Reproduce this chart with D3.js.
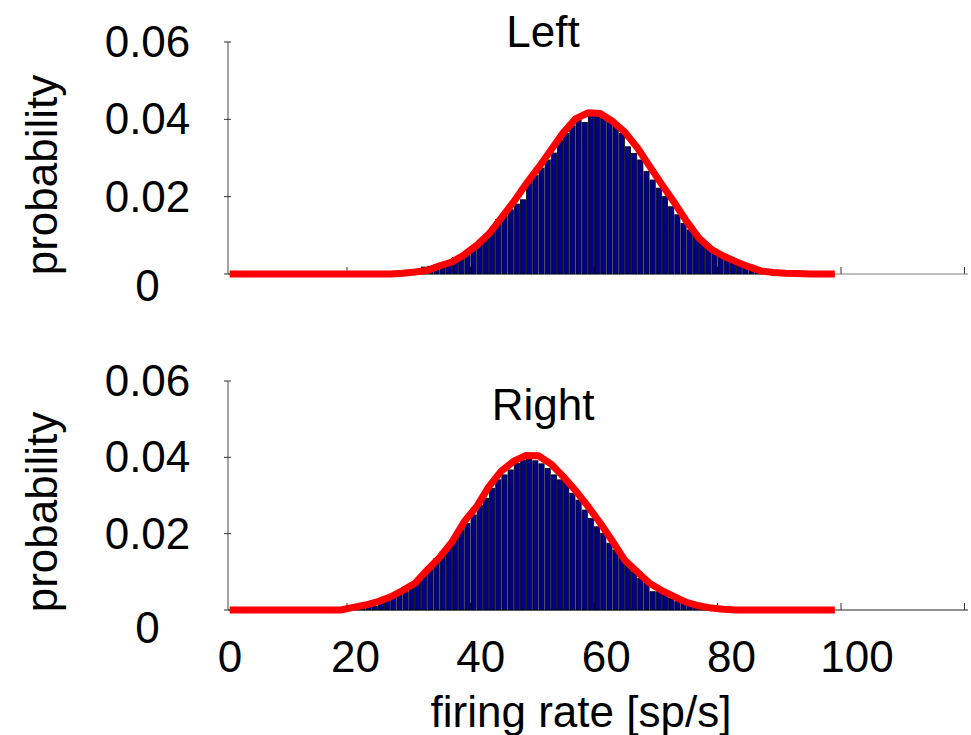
<!DOCTYPE html>
<html>
<head>
<meta charset="utf-8">
<script src="https://cdn.jsdelivr.net/npm/d3@7"></script>
<style>
  html, body { margin: 0; padding: 0; background: #fff; }
  svg text { font-family: "Liberation Sans", Arial, sans-serif; fill: #000; }
</style>
</head>
<body>
<svg id="chart" width="971" height="735"></svg>
<script>
// histogram bins are 1 sp/s wide, first bin given below
const leftFirstBin = 30;
const leftProb = [
  0.0003, 0.0005, 0.0018, 0.0020, 0.0024, 0.0028, 0.0034, 0.0043, 0.0048, 0.0058,
  0.0072, 0.0081, 0.0096, 0.0112, 0.0141, 0.0150, 0.0166, 0.0181, 0.0192, 0.0240,
  0.0255, 0.0274, 0.0295, 0.0313, 0.0345, 0.0364, 0.0383, 0.0397, 0.0392, 0.0411,
  0.0409, 0.0403, 0.0394, 0.0385, 0.0364, 0.0329, 0.0312, 0.0295, 0.0265, 0.0243,
  0.0222, 0.0200, 0.0174, 0.0153, 0.0131, 0.0114, 0.0097, 0.0090, 0.0071, 0.0058,
  0.0052, 0.0045, 0.0036, 0.0029, 0.0028, 0.0023, 0.0017, 0.0010, 0.0006, 0.0004,
  0.0003
];

const rightFirstBin = 21;
const rightProb = [
  0.0002, 0.0004, 0.0009, 0.0010, 0.0017, 0.0028, 0.0035, 0.0039, 0.0048, 0.0061,
  0.0074, 0.0096, 0.0115, 0.0135, 0.0153, 0.0170, 0.0187, 0.0210, 0.0227, 0.0249,
  0.0275, 0.0293, 0.0319, 0.0341, 0.0354, 0.0367, 0.0384, 0.0393, 0.0395, 0.0391,
  0.0383, 0.0371, 0.0354, 0.0341, 0.0339, 0.0306, 0.0288, 0.0262, 0.0240, 0.0218,
  0.0201, 0.0175, 0.0157, 0.0135, 0.0118, 0.0100, 0.0083, 0.0070, 0.0048, 0.0048,
  0.0039, 0.0031, 0.0022, 0.0017, 0.0012, 0.0007, 0.0004, 0.0002
];

// fitted curves, sampled at 1, 3, 5 ... 99 sp/s
const fitRates = [
   1,  3,  5,  7,  9, 11, 13, 15, 17, 19, 21, 23, 25, 27, 29, 31, 33, 35, 37, 39,
  41, 43, 45, 47, 49, 51, 53, 55, 57, 59, 61, 63, 65, 67, 69, 71, 73, 75, 77, 79,
  81, 83, 85, 87, 89, 91, 93, 95, 97, 99
];
const leftFit = [
  0, 0, 0, 0, 0, 0, 0, 0, 0, 0, 0, 0, 0, 0, 0.0002, 0.0005, 0.0009, 0.0021, 0.0031, 0.0050,
  0.0074, 0.0104, 0.0145, 0.0187, 0.0233, 0.0275, 0.0320, 0.0365, 0.0401, 0.0417,
  0.0415, 0.0395, 0.0367, 0.0327, 0.0279, 0.0231, 0.0185, 0.0136, 0.0093, 0.0064,
  0.0046, 0.0032, 0.0019, 0.0008, 0.0004, 0.0002, 0.0001, 0, 0, 0
];
const rightFit = [
  0, 0, 0, 0, 0, 0, 0, 0, 0, 0, 0.0007, 0.0013, 0.0022, 0.0034, 0.0051, 0.0070, 0.0105, 0.0138, 0.0178, 0.0232,
  0.0271, 0.0324, 0.0364, 0.0390, 0.0405, 0.0404, 0.0383, 0.0350, 0.0313, 0.0272,
  0.0228, 0.0180, 0.0130, 0.0100, 0.0070, 0.0051, 0.0035, 0.0020, 0.0011, 0.0005,
  0.0002, 0, 0, 0, 0, 0, 0, 0, 0, 0
];

const xTicks = [20, 40, 60, 80, 100, 120];
const xTickLabels = [0, 20, 40, 60, 80, 100];
const yTicks = [0, 0.02, 0.04, 0.06];

const svg = d3.select('#chart');
const fontSize = 44;

const x = d3.scaleLinear().domain([0, 120]).range([223.5, 964.5]);
// the printed numbers under the lower axis sit on their own spacing
const xLabel = d3.scaleLinear().domain([0, 100]).range([230, 857]);
const axisLeftX = 228;
const axisRightX = 968;

const panels = [
  { title: 'Left', titleY: 47, top: 42, bottom: 274, zeroShift: 12,
    first: leftFirstBin, prob: leftProb, fit: leftFit, xColor: '#808080', labelY: 175 },
  { title: 'Right', titleY: 420, top: 381, bottom: 610, zeroShift: 18,
    first: rightFirstBin, prob: rightProb, fit: rightFit, xColor: '#222', labelY: 512 }
];

panels.forEach(p => {
  const y = d3.scaleLinear().domain([0, 0.06]).range([p.bottom, p.top]);
  const g = svg.append('g');

  // axes
  g.append('line')
    .attr('x1', axisLeftX).attr('x2', axisRightX)
    .attr('y1', y(0)).attr('y2', y(0))
    .attr('stroke', p.xColor).attr('stroke-width', 1.2);
  g.append('line')
    .attr('x1', axisLeftX).attr('x2', axisLeftX)
    .attr('y1', y(0)).attr('y2', y(0.06))
    .attr('stroke', '#666').attr('stroke-width', 1.2);

  g.selectAll('.xtick')
    .data(xTicks)
    .enter().append('line')
    .attr('x1', d => x(d)).attr('x2', d => x(d))
    .attr('y1', y(0)).attr('y2', y(0) - 7)
    .attr('stroke', '#333').attr('stroke-width', 1);

  g.selectAll('.ytick')
    .data(yTicks)
    .enter().append('line')
    .attr('x1', axisLeftX - 4).attr('x2', axisLeftX + 3)
    .attr('y1', d => y(d)).attr('y2', d => y(d))
    .attr('stroke', '#333').attr('stroke-width', 1);

  g.selectAll('.ylab')
    .data(yTicks)
    .enter().append('text')
    .attr('x', 147.5)
    .attr('y', d => y(d) + 15 + (d === 0 ? p.zeroShift : 0))
    .attr('text-anchor', 'middle')
    .style('font-size', fontSize + 'px')
    .text(d => d === 0 ? '0' : d.toFixed(2));

  // histogram
  const w = x(1) - x(0);
  g.selectAll('.bar')
    .data(p.prob)
    .enter().append('rect')
    .attr('x', (d, i) => x(p.first + i) + 0.5)
    .attr('width', w - 1)
    .attr('y', d => y(d))
    .attr('height', d => y(0) - y(d))
    .attr('fill', '#000088')
    .attr('stroke', '#000')
    .attr('stroke-width', 0.8);

  // fitted curve
  const line = d3.line()
    .x((d, i) => x(fitRates[i]))
    .y(d => y(d));
  g.append('path')
    .datum(p.fit)
    .attr('d', line)
    .attr('fill', 'none')
    .attr('stroke', '#ff0000')
    .attr('stroke-width', 7)
    .attr('stroke-linejoin', 'round');

  g.append('text')
    .attr('x', 543).attr('y', p.titleY)
    .attr('text-anchor', 'middle')
    .style('font-size', fontSize + 'px')
    .text(p.title);

  g.append('text')
    .attr('transform', `translate(57,${p.labelY}) rotate(-90)`)
    .attr('text-anchor', 'middle')
    .style('font-size', fontSize + 'px')
    .text('probability');
});

svg.selectAll('.xlab')
  .data(xTickLabels)
  .enter().append('text')
  .attr('x', d => xLabel(d))
  .attr('y', 672)
  .attr('text-anchor', 'middle')
  .style('font-size', fontSize + 'px')
  .text(d => d);

svg.append('text')
  .attr('x', 581).attr('y', 727)
  .attr('text-anchor', 'middle')
  .style('font-size', fontSize + 'px')
  .text('firing rate [sp/s]');
</script>
</body>
</html>
